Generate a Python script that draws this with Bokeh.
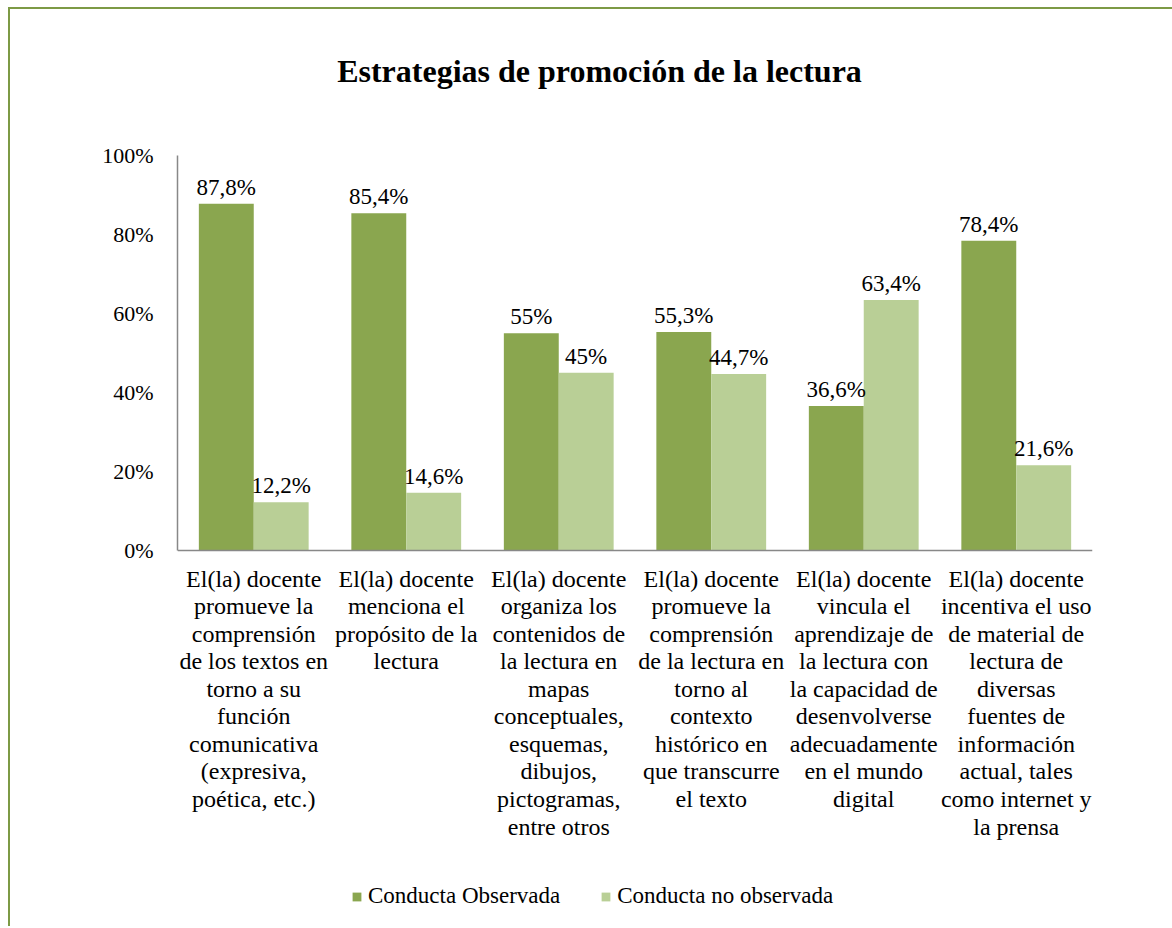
from bokeh.plotting import figure
from bokeh.models import (ColumnDataSource, Legend, LegendItem, NumeralTickFormatter, FixedTicker,
                          Range1d, FactorRange, CategoricalAxis, Label)
from bokeh.transform import dodge
from bokeh.core.properties import value
from bokeh.embed import file_html
from bokeh.resources import INLINE

title_text = "Estrategias de promoción de la lectura"
categories = [
    "El(la) docente\npromueve la\ncomprensión\nde los textos en\ntorno a su\nfunción\ncomunicativa\n(expresiva,\npoética, etc.)",
    "El(la) docente\nmenciona el\npropósito de la\nlectura",
    "El(la) docente\norganiza los\ncontenidos de\nla lectura en\nmapas\nconceptuales,\nesquemas,\ndibujos,\npictogramas,\nentre otros",
    "El(la) docente\npromueve la\ncomprensión\nde la lectura en\ntorno al\ncontexto\nhistórico en\nque transcurre\nel texto",
    "El(la) docente\nvincula el\naprendizaje de\nla lectura con\nla capacidad de\ndesenvolverse\nadecuadamente\nen el mundo\ndigital",
    "El(la) docente\nincentiva el uso\nde material de\nlectura de\ndiversas\nfuentes de\ninformación\nactual, tales\ncomo internet y\nla prensa",
]
observada = [0.878, 0.854, 0.55, 0.553, 0.366, 0.784]
no_observada = [0.122, 0.146, 0.45, 0.447, 0.634, 0.216]
labels_obs = ["87,8%", "85,4%", "55%", "55,3%", "36,6%", "78,4%"]
labels_no = ["12,2%", "14,6%", "45%", "44,7%", "63,4%", "21,6%"]
series_names = ["Conducta Observada", "Conducta no observada"]
y_ticks = [0, 0.2, 0.4, 0.6, 0.8, 1.0]

C_OBS = "#8aa64f"
C_NO = "#b9cf96"
FONT = "'Liberation Serif', serif"

src = ColumnDataSource(dict(cat=categories, obs=observada, no=no_observada,
                            lobs=labels_obs, lno=labels_no))

# layout (pixels): canvas top at 9, 100% line at 155, 0% line at 550, frame bottom at 926
PX_PER_UNIT = 550 - 155
Y_TOP = 1 + (155 - 9) / PX_PER_UNIT
Y_BOTTOM = -(926 - 550) / PX_PER_UNIT
CAT_PX = 915 / len(categories)

p = figure(frame_width=915, frame_height=917, title=None,
           x_range=FactorRange(*categories, range_padding=0),
           y_range=Range1d(Y_BOTTOM, Y_TOP), output_backend="svg", toolbar_location=None,
           x_axis_location=None,
           min_border_left=167, min_border_right=80, min_border_top=0, min_border_bottom=0)
p.styles = {"border-left": "2px solid #7d9a45", "border-top": "2px solid #7d9a45",
            "margin-left": "8px", "margin-top": "7px"}

bw = 0.36
r1 = p.vbar(x=dodge("cat", -bw / 2, range=p.x_range), top="obs", bottom=0, width=bw, source=src,
            fill_color=C_OBS, line_color=None)
r2 = p.vbar(x=dodge("cat", bw / 2, range=p.x_range), top="no", bottom=0, width=bw, source=src,
            fill_color=C_NO, line_color=None)

p.text(x=dodge("cat", -bw / 2, range=p.x_range), y="obs", text="lobs", source=src,
       text_align="center", text_baseline="bottom", y_offset=-4,
       text_font=value(FONT), text_font_size="23px", text_color="#000000")
p.text(x=dodge("cat", bw / 2, range=p.x_range), y="no", text="lno", source=src,
       text_align="center", text_baseline="bottom", y_offset=-4,
       text_font=value(FONT), text_font_size="23px", text_color="#000000")

title = Label(x=(599 - 177) / CAT_PX, y=1 + (155 - 70) / PX_PER_UNIT, text=title_text,
              text_align="center", text_baseline="middle",
              text_font="Liberation Serif", text_font_size="32px", text_font_style="bold",
              text_color="#000000")
p.add_layout(title)

p.grid.visible = False
p.outline_line_color = None

xax = CategoricalAxis(fixed_location=0)
p.add_layout(xax, "below")

p.yaxis.ticker = FixedTicker(ticks=y_ticks)
p.yaxis.bounds = (0, 1)
p.yaxis.formatter = NumeralTickFormatter(format="0%")
for ax in (xax, p.yaxis[0]):
    ax.axis_line_color = "#888888"
    ax.axis_line_width = 1.5
    ax.major_tick_line_color = None
    ax.minor_tick_line_color = None
    ax.major_label_text_font = FONT
    ax.major_label_text_color = "#000000"
p.yaxis.major_label_text_font_size = "22px"
xax.major_label_text_font_size = "24px"
xax.major_label_text_line_height = 1.06
p.yaxis.major_label_standoff = 18
xax.major_label_standoff = 9

legend = Legend(items=[LegendItem(label=series_names[0], renderers=[r1]),
                       LegendItem(label=series_names[1], renderers=[r2])],
                location=(174, 17), orientation="horizontal",
                label_text_font="Times New Roman", label_text_font_size="23px",
                label_text_color="#000000",
                glyph_width=11, glyph_height=11, label_standoff=6, spacing=40,
                padding=10, border_line_color=None, background_fill_alpha=0)
p.add_layout(legend, "center")

open("out.html", "w").write(file_html(p, INLINE))
